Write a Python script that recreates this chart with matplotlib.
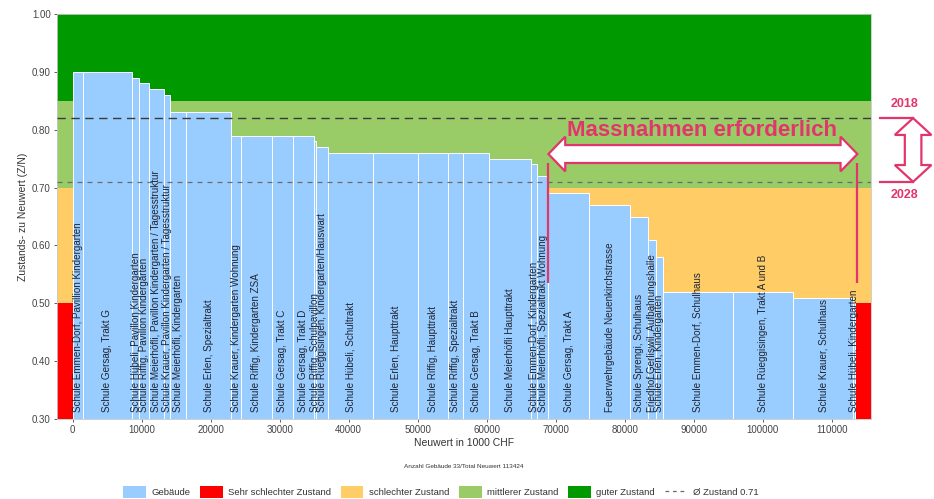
import matplotlib
matplotlib.use("Agg")
import matplotlib.pyplot as plt
from matplotlib.patches import Patch, Polygon
from matplotlib.lines import Line2D
import numpy as np

plt.rcParams['font.family'] = ['Liberation Sans', 'DejaVu Sans']

# Buildings sorted by condition ratio (Zustand / Neuwert)
gebaeude = [
    "Schule Emmen-Dorf, Pavillion Kindergarten",
    "Schule Gersag, Trakt G",
    "Schule Hübeli, Pavillon Kindergarten",
    "Schule Riffig, Pavillon Kindergarten",
    "Schule Meierhöfli, Pavillon Kindergarten / Tagesstruktur",
    "Schule Krauer, Pavillon Kindergarten / Tagesstruktur",
    "Schule Meierhöfli, Kindergarten",
    "Schule Erlen, Spezialtrakt",
    "Schule Krauer, Kindergarten Wohnung",
    "Schule Riffig, Kindergarten ZSA",
    "Schule Gersag, Trakt C",
    "Schule Gersag, Trakt D",
    "Schule Riffig, Schulpavillon",
    "Schule Rüeggisingen, Kindergarten/Hauswart",
    "Schule Hübeli, Schultrakt",
    "Schule Erlen, Haupttrakt",
    "Schule Riffig, Haupttrakt",
    "Schule Riffig, Spezialtrakt",
    "Schule Gersag, Trakt B",
    "Schule Meierhöfli Haupttrakt",
    "Schule Emmen-Dorf, Kindergarten",
    "Schule Meierhöfli, Spezialtrakt Wohnung",
    "Schule Gersag, Trakt A",
    "Feuerwehrgebäude Neuenkirchstrasse",
    "Schule Sprengi, Schulhaus",
    "Friedhof Gerliswil, Aufbahrungshalle",
    "Schule Erlen, Kindergarten",
    "Schule Emmen-Dorf, Schulhaus",
    "Schule Rüeggisingen, Trakt A und B",
    "Schule Krauer, Schulhaus",
    "Schule Hübeli, Kindergarten",
]
neuwert = [1450, 7150, 1060, 1400, 2170, 870, 2370, 6520, 1400, 4490,
           3040, 2990, 390, 1780, 6430, 6600, 4260, 2170, 3860, 6040,
           830, 1680, 5940, 5890, 2620, 1120, 970, 10160, 8790, 8640, 345]
zustand = [0.90, 0.90, 0.89, 0.88, 0.87, 0.86, 0.83, 0.83, 0.79, 0.79,
           0.79, 0.79, 0.78, 0.77, 0.76, 0.76, 0.76, 0.76, 0.76, 0.75,
           0.74, 0.72, 0.69, 0.67, 0.65, 0.61, 0.58, 0.52, 0.52, 0.51, 0.50]

anzahl_gebaeude = 33
total_neuwert = 113424
zustand_2018 = 0.82
zustand_2028 = 0.71

# Condition bands: (lower, upper, colour, legend label)
baender = [
    (0.30, 0.50, "#ff0000", "Sehr schlechter Zustand"),
    (0.50, 0.70, "#ffcc66", "schlechter Zustand"),
    (0.70, 0.85, "#99cc66", "mittlerer Zustand"),
    (0.85, 1.00, "#009900", "guter Zustand"),
]
farbe_gebaeude = "#99ccff"
pink = "#e2356c"

y_min, y_max = 0.30, 1.00
x_pad = 0.02 * total_neuwert

fig = plt.figure(figsize=(9.34, 4.99), dpi=100)
ax = fig.add_axes([0.0610, 0.1603, 0.8715, 0.8116])
ax.set_xlim(-x_pad, total_neuwert + x_pad)
ax.set_ylim(y_min, y_max)

for lo, hi, col, _ in baender:
    ax.axhspan(lo, hi, color=col, zorder=0, lw=0)

links = np.concatenate([[0], np.cumsum(neuwert)[:-1]])
hoehe = np.array(zustand) - y_min
ax.bar(links, hoehe, width=neuwert, bottom=y_min, align="edge",
       color=farbe_gebaeude, edgecolor="white", linewidth=0.7, zorder=2)

for x0, w, name in zip(links, neuwert, gebaeude):
    ax.text(x0 + w / 2, y_min + 0.012, name, rotation=90, ha="center",
            va="bottom", fontsize=7.1, color="#1f2533", zorder=5)

ax.axhline(zustand_2018, color="#3a3a3a", lw=1.0, ls=(0, (6, 4)), zorder=4)
ax.axhline(zustand_2028, color="#6b6b6b", lw=0.9, ls=(0, (4, 4)), zorder=4)

# "Massnahmen erforderlich": hollow double arrow over the buildings below 0.70
start_x = links[np.argmax(np.array(zustand) < 0.70)]
end_x = total_neuwert + 300
y_mid, body_h, head_h = 0.758, 0.0155, 0.030
head_len = 0.0215 * total_neuwert
arrow_pts = [
    (start_x, y_mid),
    (start_x + head_len, y_mid + head_h),
    (start_x + head_len, y_mid + body_h),
    (end_x - head_len, y_mid + body_h),
    (end_x - head_len, y_mid + head_h),
    (end_x, y_mid),
    (end_x - head_len, y_mid - head_h),
    (end_x - head_len, y_mid - body_h),
    (start_x + head_len, y_mid - body_h),
    (start_x + head_len, y_mid - head_h),
]
ax.add_patch(Polygon(arrow_pts, closed=True, facecolor="white",
                     edgecolor=pink, lw=1.6, zorder=6, joinstyle="miter"))
for xv in (start_x, end_x):
    ax.plot([xv, xv], [y_mid - body_h, 0.535], color=pink, lw=1.6,
            zorder=6, solid_capstyle="butt")
ax.text(91280, 0.799, "Massnahmen erforderlich", color=pink, fontsize=16,
        fontweight="bold", ha="center", va="center", zorder=7)

# Shift of the average condition between 2018 and 2028, right of the plot
xa = 121800
ax.plot([117000, xa], [zustand_2018, zustand_2018], color=pink, lw=1.6,
        clip_on=False, zorder=6)
ax.plot([117000, xa], [zustand_2028, zustand_2028], color=pink, lw=1.6,
        clip_on=False, zorder=6)
bw, hw, hl = 1200, 2650, 0.029
v_pts = [
    (xa, zustand_2018),
    (xa + hw, zustand_2018 - hl),
    (xa + bw, zustand_2018 - hl),
    (xa + bw, zustand_2028 + hl),
    (xa + hw, zustand_2028 + hl),
    (xa, zustand_2028),
    (xa - hw, zustand_2028 + hl),
    (xa - bw, zustand_2028 + hl),
    (xa - bw, zustand_2018 - hl),
    (xa - hw, zustand_2018 - hl),
]
ax.add_patch(Polygon(v_pts, closed=True, facecolor="white", edgecolor=pink,
                     lw=1.6, clip_on=False, zorder=6, joinstyle="miter"))
ax.text(120600, 0.844, "2018", color=pink, fontsize=9, fontweight="bold",
        ha="center", va="center", clip_on=False)
ax.text(120600, 0.688, "2028", color=pink, fontsize=9, fontweight="bold",
        ha="center", va="center", clip_on=False)

ax.set_xticks(np.arange(0, 110001, 10000))
ax.set_xticklabels([f"{v:d}" for v in range(0, 110001, 10000)])
ax.set_yticks(np.arange(0.30, 1.001, 0.10))
ax.set_yticklabels([f"{v:.2f}" for v in np.arange(0.30, 1.001, 0.10)])
ax.tick_params(axis="both", labelsize=7, colors="#444444", length=2.5,
               width=0.6, pad=2)
for s in ax.spines.values():
    s.set_color("#c8c8c8")
    s.set_linewidth(0.6)
ax.set_xlabel("Neuwert in 1000 CHF", fontsize=7.5, color="#333333", labelpad=2)
ax.set_ylabel("Zustands- zu Neuwert (Z/N)", fontsize=7.5, color="#333333",
              labelpad=3)

fig.text(0.4968, 1 - 466 / 499,
         f"Anzahl Gebäude {anzahl_gebaeude}/Total Neuwert {total_neuwert}",
         fontsize=4.6, color="#333333", ha="center", va="center")

handles = [Patch(facecolor=farbe_gebaeude, label="Gebäude")]
handles += [Patch(facecolor=c, label=l) for _, _, c, l in baender]
handles.append(Line2D([0], [0], color="#6b6b6b", lw=0.9, ls=(0, (3, 3)),
                      label=f"Ø Zustand {zustand_2028:.2f}"))
fig.legend(handles=handles, loc="center", bbox_to_anchor=(0.472, 1 - 492 / 499),
           ncol=6, frameon=False, fontsize=6.8, handlelength=2.4,
           handleheight=1.6, columnspacing=1.0, handletextpad=0.6,
           labelcolor="#333333")

fig.savefig("out.png", dpi=100)
